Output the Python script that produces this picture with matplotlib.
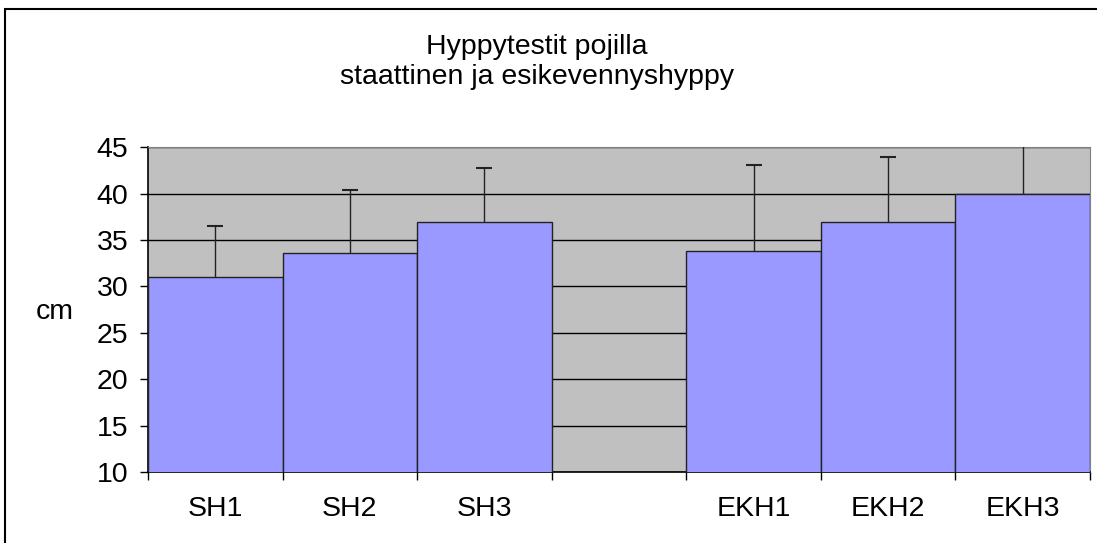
import matplotlib
matplotlib.use("Agg")
import matplotlib.pyplot as plt
from matplotlib.patches import Rectangle
import numpy as np

plt.rcParams['font.family'] = ['Liberation Sans', 'DejaVu Sans']

# --- Data --------------------------------------------------------------------
categories = ["SH1", "SH2", "SH3", "", "EKH1", "EKH2", "EKH3"]
means = [31.0, 33.65, 36.9, np.nan, 33.85, 36.9, 40.0]
errors = [5.5, 6.7, 5.9, np.nan, 9.2, 7.1, 5.5]
y_ticks = [10, 15, 20, 25, 30, 35, 40, 45]

W, H = 1097, 543
FS = 20.5
fig = plt.figure(figsize=(W / 100, H / 100), dpi=100)

# outer chart-area frame (cut off at right/bottom of the image)
fig.patches.append(Rectangle((5 / W, -0.1), 1.2, 1.1 - 9 / H, transform=fig.transFigure,
                             fill=False, edgecolor="black", linewidth=1.5))

ax = fig.add_axes([148 / W, 1 - 472 / H, (1090 - 148) / W, (472 - 147.3) / H])
ax.set_facecolor("#C0C0C0")

x = np.arange(len(categories))
ax.bar(x, means, width=1.0, bottom=0, color="#9999FF", edgecolor="#222222",
       linewidth=1.0, zorder=3)
_, caps, _ = ax.errorbar(x, means, yerr=[np.zeros(len(x)), errors], fmt="none",
                         ecolor="#222222", elinewidth=1.0, capsize=6, capthick=1.5,
                         zorder=4)
caps[0].set_visible(False)   # only the upper half is drawn, like the original

ax.set_xlim(-0.5, len(categories) - 0.5)
ax.set_ylim(10, 45)
ax.set_yticks(y_ticks)
ax.yaxis.grid(True, color="black", linewidth=1.0, zorder=1)
ax.set_axisbelow(True)

ax.set_xticks(x)
ax.set_xticklabels(categories)
ax.set_xticks(np.arange(-0.5, len(categories)), minor=True)
ax.tick_params(axis="x", which="major", length=0, pad=17, labelsize=FS)
ax.tick_params(axis="x", which="minor", length=6, width=1, direction="out")
ax.tick_params(axis="y", length=6, width=1, direction="out", pad=8, labelsize=FS)

for side in ("top", "right"):
    ax.spines[side].set_color("#808080")
for side in ("left", "bottom"):
    ax.spines[side].set_color("black")
    ax.spines[side].set_linewidth(1.2)

fig.text(55 / W, 1 - 312 / H, "cm", fontsize=FS, ha="center", va="center")
fig.text(537 / W, 1 - 47 / H, "Hyppytestit pojilla", fontsize=FS, ha="center", va="center")
fig.text(537 / W, 1 - 77 / H, "staattinen ja esikevennyshyppy", fontsize=FS,
         ha="center", va="center")

fig.savefig("out.png", dpi=100)
